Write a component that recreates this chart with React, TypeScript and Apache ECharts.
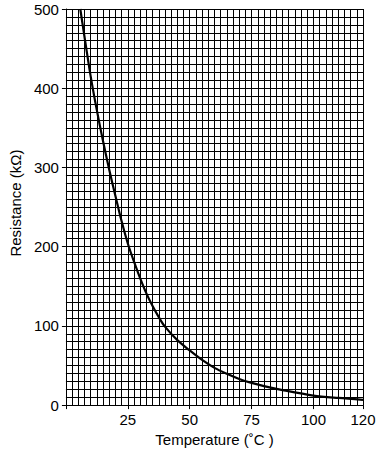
import React, { useEffect, useRef } from "react";
import * as echarts from "echarts";

const temperatures = [5.8, 7.5, 10, 12.5, 15, 17.5, 20, 22.5, 25, 27.5, 30, 32.5, 35, 37.5, 40, 45, 50, 55, 60, 65, 70, 75, 80, 87.5, 100, 110, 120];
const resistances = [500, 465, 415, 372, 333, 297, 264, 232, 204, 181, 160, 141, 125, 111, 99, 82, 69, 57, 47, 39.5, 33, 28, 24, 19, 12, 9, 6.7];

const xName = "Temperature (˚C )";
const yName = "Resistance (kΩ)";

const FONT = "'Liberation Sans', Arial, sans-serif";

export default function App() {
  const ref = useRef<HTMLDivElement>(null);
  useEffect(() => {
    document.body.style.margin = "0";
    const chart = echarts.init(ref.current!, undefined, { renderer: "svg" });
    const data = temperatures.map((t, i) => [t, resistances[i]]);
    chart.setOption({
      animation: false,
      backgroundColor: "#fff",
      textStyle: { fontFamily: FONT },
      grid: { left: 59, right: 28, top: 9, bottom: 46 },
      xAxis: [
        {
          type: "value",
          min: 0,
          max: 120,
          interval: 25,
          axisLine: { show: true, lineStyle: { color: "#000", width: 1 } },
          axisTick: { show: true, length: 4, lineStyle: { color: "#000" } },
          axisLabel: {
            color: "#000",
            fontSize: 15,
            fontFamily: FONT,
            margin: 7,
            formatter: (v: number) => (v === 0 ? "" : String(v)),
          },
          splitLine: { show: false },
          name: xName,
          nameLocation: "middle",
          nameGap: 24,
          nameTextStyle: { color: "#000", fontSize: 15, fontFamily: FONT },
        },
        {
          type: "value",
          min: 0,
          max: 120,
          interval: 2.5,
          position: "bottom",
          axisLine: { show: false },
          axisTick: { show: false },
          axisLabel: { show: false },
          splitLine: { show: true, lineStyle: { color: "#000", width: 1 } },
        },
      ],
      yAxis: [
        {
          type: "value",
          min: 0,
          max: 500,
          interval: 100,
          axisLine: { show: true, lineStyle: { color: "#000", width: 1 } },
          axisTick: { show: true, length: 4, lineStyle: { color: "#000" } },
          axisLabel: { color: "#000", fontSize: 15, fontFamily: FONT, margin: 7 },
          splitLine: { show: false },
          name: yName,
          nameLocation: "middle",
          nameGap: 40,
          nameRotate: 90,
          nameTextStyle: { color: "#000", fontSize: 15, fontFamily: FONT, padding: [0, 0, 0, 8] },
        },
        {
          type: "value",
          min: 0,
          max: 500,
          interval: 10,
          position: "left",
          axisLine: { show: false },
          axisTick: { show: false },
          axisLabel: { show: false },
          splitLine: { show: true, lineStyle: { color: "#000", width: 1 } },
        },
      ],
      series: [
        {
          type: "line",
          xAxisIndex: 0,
          yAxisIndex: 0,
          data,
          smooth: 0.3,
          showSymbol: false,
          symbol: "none",
          clip: true,
          lineStyle: { color: "#000", width: 2.2 },
          z: 5,
        },
      ],
    });
    return () => chart.dispose();
  }, []);
  return <div ref={ref} style={{ width: 391, height: 452 }} />;
}
